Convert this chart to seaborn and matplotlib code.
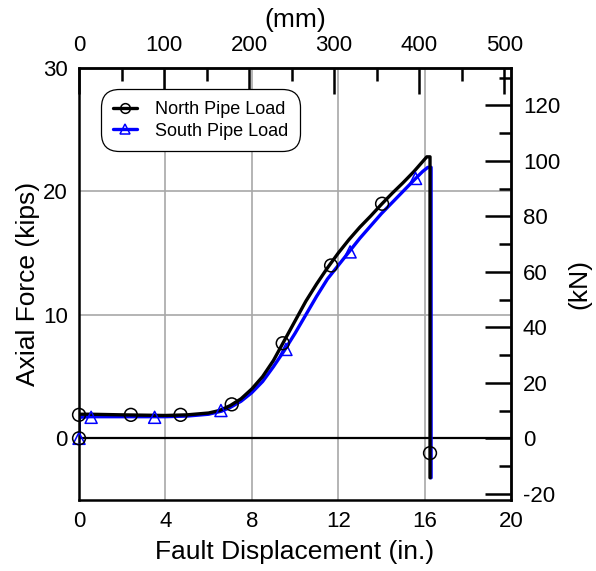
import numpy as np
import pandas as pd
import matplotlib
matplotlib.use("Agg")
import matplotlib.pyplot as plt
from matplotlib.lines import Line2D
from matplotlib.ticker import FixedLocator
import seaborn as sns

# Axial force (kips) against fault displacement (in.)
north_disp = [0, 0, 0.5, 2, 4, 5, 6, 6.5, 7, 7.5, 8, 8.5, 9, 9.5, 10, 10.5, 11,
              11.5, 12, 12.5, 13, 13.5, 14, 14.5, 15, 15.5, 15.9, 16.1, 16.25, 16.25]
north_force = [0, 1.95, 1.95, 1.9, 1.85, 1.9, 2.05, 2.25, 2.65, 3.2, 4.0, 5.0, 6.3,
               7.9, 9.5, 11.1, 12.5, 13.8, 15.0, 16.1, 17.1, 18.0, 18.95, 19.85,
               20.7, 21.6, 22.4, 22.8, 22.8, -3.2]
north_mark_disp = [0, 0, 2.4, 4.7, 7.07, 9.43, 11.67, 14.03, 16.25]
north_mark_force = [0, 1.9, 1.9, 1.9, 2.75, 7.7, 14.0, 19.0, -1.2]

south_disp = [0, 0, 0.5, 2, 4, 5, 6, 6.6, 7, 7.5, 8, 8.5, 9, 9.5, 10, 10.5, 11,
              11.5, 12, 12.5, 13, 13.5, 14, 14.5, 15, 15.5, 15.9, 16.15, 16.3, 16.3]
south_force = [0, 1.7, 1.75, 1.75, 1.75, 1.8, 1.95, 2.2, 2.5, 3.0, 3.7, 4.6, 5.8,
               7.1, 8.5, 10.0, 11.5, 12.9, 14.0, 15.1, 16.2, 17.2, 18.2, 19.1,
               20.0, 20.9, 21.6, 21.95, 21.95, -3.2]
south_mark_disp = [0, 0.56, 3.5, 6.57, 9.58, 12.55, 15.58]
south_mark_force = [0, 1.7, 1.7, 2.25, 7.2, 15.1, 21.05]

series_names = ["North Pipe Load", "South Pipe Load"]
series_colors = ["black", "#0000ff"]

x_ticks_in = [0, 4, 8, 12, 16, 20]
y_ticks_kips = [0, 10, 20, 30]
x_ticks_mm = [0, 100, 200, 300, 400, 500]
y_ticks_kn = [-20, 0, 20, 40, 60, 80, 100, 120]

sns.set_theme(style="white")
plt.rcParams["font.family"] = ["Liberation Sans", "DejaVu Sans"]
plt.rcParams["axes.unicode_minus"] = False
for key in ["text.color", "axes.labelcolor", "xtick.color", "ytick.color"]:
    plt.rcParams[key] = "black"

fig = plt.figure(figsize=(5.96, 5.71), dpi=100)
ax = fig.add_axes([0.1326, 0.1243, 0.7248, 0.7567])

# reference lines
ax.axhline(0, color="black", lw=1.6, zorder=1)
for xv in [4, 8, 12, 16]:
    ax.axvline(xv, color="#a8a8a8", lw=1.2, zorder=0)
for yv in [10, 20]:
    ax.axhline(yv, color="#a8a8a8", lw=1.2, zorder=0)

north = pd.DataFrame({"disp": north_disp, "force": north_force})
south = pd.DataFrame({"disp": south_disp, "force": south_force})

sns.lineplot(data=south, x="disp", y="force", sort=False, estimator=None,
             color=series_colors[1], lw=2.4, ax=ax, zorder=3)
sns.lineplot(data=north, x="disp", y="force", sort=False, estimator=None,
             color=series_colors[0], lw=2.4, ax=ax, zorder=4)

ax.scatter(south_mark_disp, south_mark_force, marker="^", s=75,
           facecolors="none", edgecolors=series_colors[1], linewidths=1.1,
           zorder=5, clip_on=False)
ax.scatter(north_mark_disp, north_mark_force, marker="o", s=85,
           facecolors="none", edgecolors=series_colors[0], linewidths=1.1,
           zorder=6, clip_on=False)

ax.set_xlim(0, 20)
ax.set_ylim(-5, 30)
ax.set_xticks(x_ticks_in)
ax.set_yticks(y_ticks_kips)
ax.xaxis.set_minor_locator(FixedLocator([2, 6, 10, 14, 18]))
ax.yaxis.set_minor_locator(FixedLocator([5, 15, 25]))

for s in ax.spines.values():
    s.set_linewidth(1.8)
    s.set_color("black")
    s.set_visible(True)

tick_kw = dict(direction="in", color="black", width=1.8)
label_size = 16
ax.tick_params(axis="x", which="major", length=19, labelsize=label_size, pad=8, **tick_kw)
ax.tick_params(axis="y", which="major", length=19, labelsize=label_size, pad=8, **tick_kw)
ax.tick_params(which="minor", length=9, **tick_kw)
ax.tick_params(top=False, right=False, which="both")

ax.set_xlabel("Fault Displacement (in.)", fontsize=19, labelpad=6)
ax.set_ylabel("Axial Force (kips)", fontsize=19, labelpad=2)

# mm scale on top
secx = ax.secondary_xaxis("top", functions=(lambda v: v * 25.4, lambda v: v / 25.4))
secx.xaxis.set_major_locator(FixedLocator(x_ticks_mm))
secx.xaxis.set_minor_locator(FixedLocator([50, 150, 250, 350, 450]))
secx.tick_params(which="major", length=19, labelsize=label_size, pad=8.5, **tick_kw)
secx.tick_params(which="minor", length=9, **tick_kw)
secx.set_xlabel("(mm)", fontsize=19, labelpad=6)
secx.spines["top"].set_linewidth(1.8)

# kN scale on right
secy = ax.secondary_yaxis("right", functions=(lambda v: v * 4.448222, lambda v: v / 4.448222))
secy.yaxis.set_major_locator(FixedLocator(y_ticks_kn))
secy.yaxis.set_minor_locator(FixedLocator([-10, 10, 30, 50, 70, 90, 110, 130]))
secy.tick_params(which="major", length=19, labelsize=label_size, pad=8.5, **tick_kw)
secy.tick_params(which="minor", length=9, **tick_kw)
secy.set_ylabel("(kN)", fontsize=19, labelpad=5)
secy.spines["right"].set_linewidth(1.8)

handles = [
    Line2D([], [], color=series_colors[0], lw=2.4, marker="o", ms=7,
           mfc="none", mec=series_colors[0], mew=1.1),
    Line2D([], [], color=series_colors[1], lw=2.4, marker="^", ms=7,
           mfc="none", mec=series_colors[1], mew=1.1),
]
leg = ax.legend(handles, series_names, loc="upper left",
                bbox_to_anchor=(0.06, 0.942), borderaxespad=0, fontsize=13,
                handlelength=1.3, handletextpad=1.0, labelspacing=0.25,
                borderpad=0.45, frameon=True, fancybox=True)
frame = leg.get_frame()
frame.set_edgecolor("black")
frame.set_linewidth(0.9)
frame.set_alpha(1)
frame.set_boxstyle("round,pad=0.2,rounding_size=1.0")

fig.savefig("out.png", dpi=100)
